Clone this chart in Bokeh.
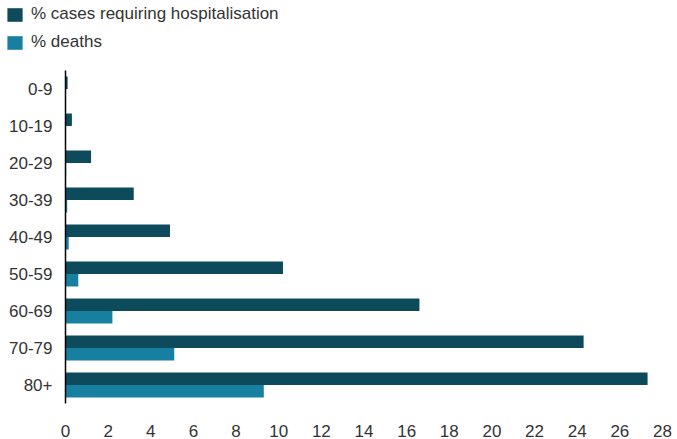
from bokeh.plotting import figure
from bokeh.models import ColumnDataSource, Legend, LegendItem, FixedTicker, FactorRange
from bokeh.layouts import column
from bokeh.transform import dodge
from bokeh.embed import file_html
from bokeh.resources import INLINE

age_groups = ["0-9", "10-19", "20-29", "30-39", "40-49", "50-59", "60-69", "70-79", "80+"]
hospitalisation = [0.1, 0.3, 1.2, 3.2, 4.9, 10.2, 16.6, 24.3, 27.3]
deaths = [0.002, 0.006, 0.03, 0.08, 0.15, 0.6, 2.2, 5.1, 9.3]
x_ticks = [0, 2, 4, 6, 8, 10, 12, 14, 16, 18, 20, 22, 24, 26, 28]
series_labels = ["% cases requiring hospitalisation", "% deaths"]

HOSP_COLOR = "#0c4a5c"
DEATH_COLOR = "#1780a1"
FONT = "Liberation Sans"
TEXT_COLOR = "#333333"

source = ColumnDataSource(dict(age=age_groups, hosp=hospitalisation, deaths=deaths))

# ---- legend strip on top (its renderers use a range with no matching factor, so no bars show) ----
lg = figure(width=677, height=70, x_range=(0, 28), y_range=FactorRange(factors=["legend"]),
            output_backend="svg", toolbar_location=None,
            x_axis_location=None, y_axis_location=None,
            min_border_left=0, min_border_right=0, min_border_top=0, min_border_bottom=0)
lg.grid.visible = False
lg.outline_line_color = None
l1 = lg.hbar(y="age", right="hosp", left=0, height=0.33, source=source,
             color=HOSP_COLOR, line_color=None)
l2 = lg.hbar(y="age", right="deaths", left=0, height=0.33, source=source,
             color=DEATH_COLOR, line_color=None)
legend = Legend(items=[LegendItem(label=series_labels[0], renderers=[l1]),
                       LegendItem(label=series_labels[1], renderers=[l2])],
                location=(5, 18), orientation="vertical",
                label_text_font=FONT, label_text_font_size="17px", label_text_color=TEXT_COLOR,
                glyph_width=19, glyph_height=17, spacing=8, padding=0, margin=0,
                label_standoff=7, label_height=17, border_line_color=None,
                background_fill_alpha=0)
lg.add_layout(legend)

# ---- main chart ----
p = figure(width=677, height=369, y_range=list(reversed(age_groups)), x_range=(0, 28),
           output_backend="svg", toolbar_location=None,
           min_border_left=65, min_border_right=15, min_border_top=0, min_border_bottom=0)

p.hbar(y=dodge("age", 0.17, range=p.y_range), right="hosp", height=0.34, left=0,
       source=source, color=HOSP_COLOR, line_color=None)
p.hbar(y=dodge("age", -0.17, range=p.y_range), right="deaths", height=0.34, left=0,
       source=source, color=DEATH_COLOR, line_color=None)

p.y_range.range_padding = 0

p.grid.visible = False
p.outline_line_color = None

p.xaxis.ticker = FixedTicker(ticks=x_ticks)
p.xaxis.axis_line_color = None
p.xaxis.major_tick_line_color = None
p.xaxis.minor_tick_line_color = None
p.xaxis.major_label_standoff = 15
p.xaxis.major_label_text_font = FONT
p.xaxis.major_label_text_font_size = "17px"
p.xaxis.major_label_text_color = TEXT_COLOR

p.yaxis.axis_line_color = "black"
p.yaxis.axis_line_width = 1.5
p.yaxis.major_tick_line_color = None
p.yaxis.minor_tick_line_color = None
p.yaxis.major_label_standoff = 7
p.yaxis.major_label_text_font = FONT
p.yaxis.major_label_text_font_size = "17px"
p.yaxis.major_label_text_color = TEXT_COLOR

layout = column(column(lg), p, spacing=0)
open("out.html", "w").write(file_html(layout, INLINE))
